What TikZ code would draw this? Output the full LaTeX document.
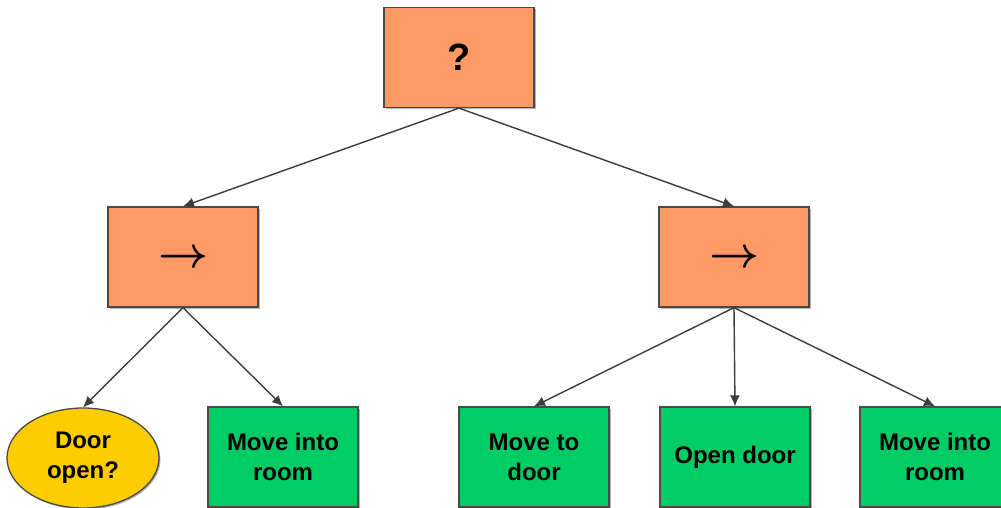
\documentclass[tikz,border=0pt]{standalone}
\usepackage{fontspec}
\setmainfont{Liberation Sans}
\usetikzlibrary{shapes.geometric,shadows,arrows.meta}
\definecolor{orangef}{HTML}{FF9966}
\definecolor{greenf}{HTML}{00CC66}
\definecolor{yellowf}{HTML}{FFCC00}
\definecolor{edgec}{HTML}{4A4A4A}
\definecolor{linec}{HTML}{3C3C3C}
\newcommand{\seqarrow}{\raisebox{-21.5pt}{\smash{\resizebox{50pt}{!}{\boldmath$\rightarrow$}}}}
\begin{document}
\begin{tikzpicture}[x=1pt,y=-1pt,
  base/.style={draw=edgec, line width=1.3pt, inner sep=0pt, align=center,
    font=\fontsize{24}{30}\selectfont\bfseries,
    drop shadow={shadow xshift=1.5pt, shadow yshift=-1.5pt, opacity=0.3, fill=black}},
  box/.style={base, rectangle, minimum width=150pt, minimum height=100pt},
  ctrl/.style={box, fill=orangef},
  act/.style={box, fill=greenf},
  cond/.style={base, ellipse, fill=yellowf, minimum width=152pt, minimum height=100pt},
  conn/.style={draw=linec, line width=1.4pt, -{Latex[length=11pt,width=10pt]}}]
\useasboundingbox (0,0) rectangle (1001,508);
\node[ctrl, font=\fontsize{38}{40}\selectfont\bfseries] (root) at (459,57.5) {?};
\node[ctrl] (seqL) at (183,257) {\seqarrow};
\node[ctrl] (seqR) at (734,257) {\seqarrow};
\node[cond] (door) at (83,458) {Door\\open?};
\node[act] (moveL) at (283,457) {Move into\\room};
\node[act] (moveto) at (534,457) {Move to\\door};
\node[act] (open) at (735,457) {Open door};
\node[act] (moveR) at (935,457) {Move into\\room};
\draw[conn] (root.south) -- (seqL.north);
\draw[conn] (root.south) -- (seqR.north);
\draw[conn] (seqL.south) -- (door.north);
\draw[conn] (seqL.south) -- (moveL.north);
\draw[conn] (seqR.south) -- (moveto.north);
\draw[conn] (seqR.south) -- (open.north);
\draw[conn] (seqR.south) -- (moveR.north);
\end{tikzpicture}
\end{document}
